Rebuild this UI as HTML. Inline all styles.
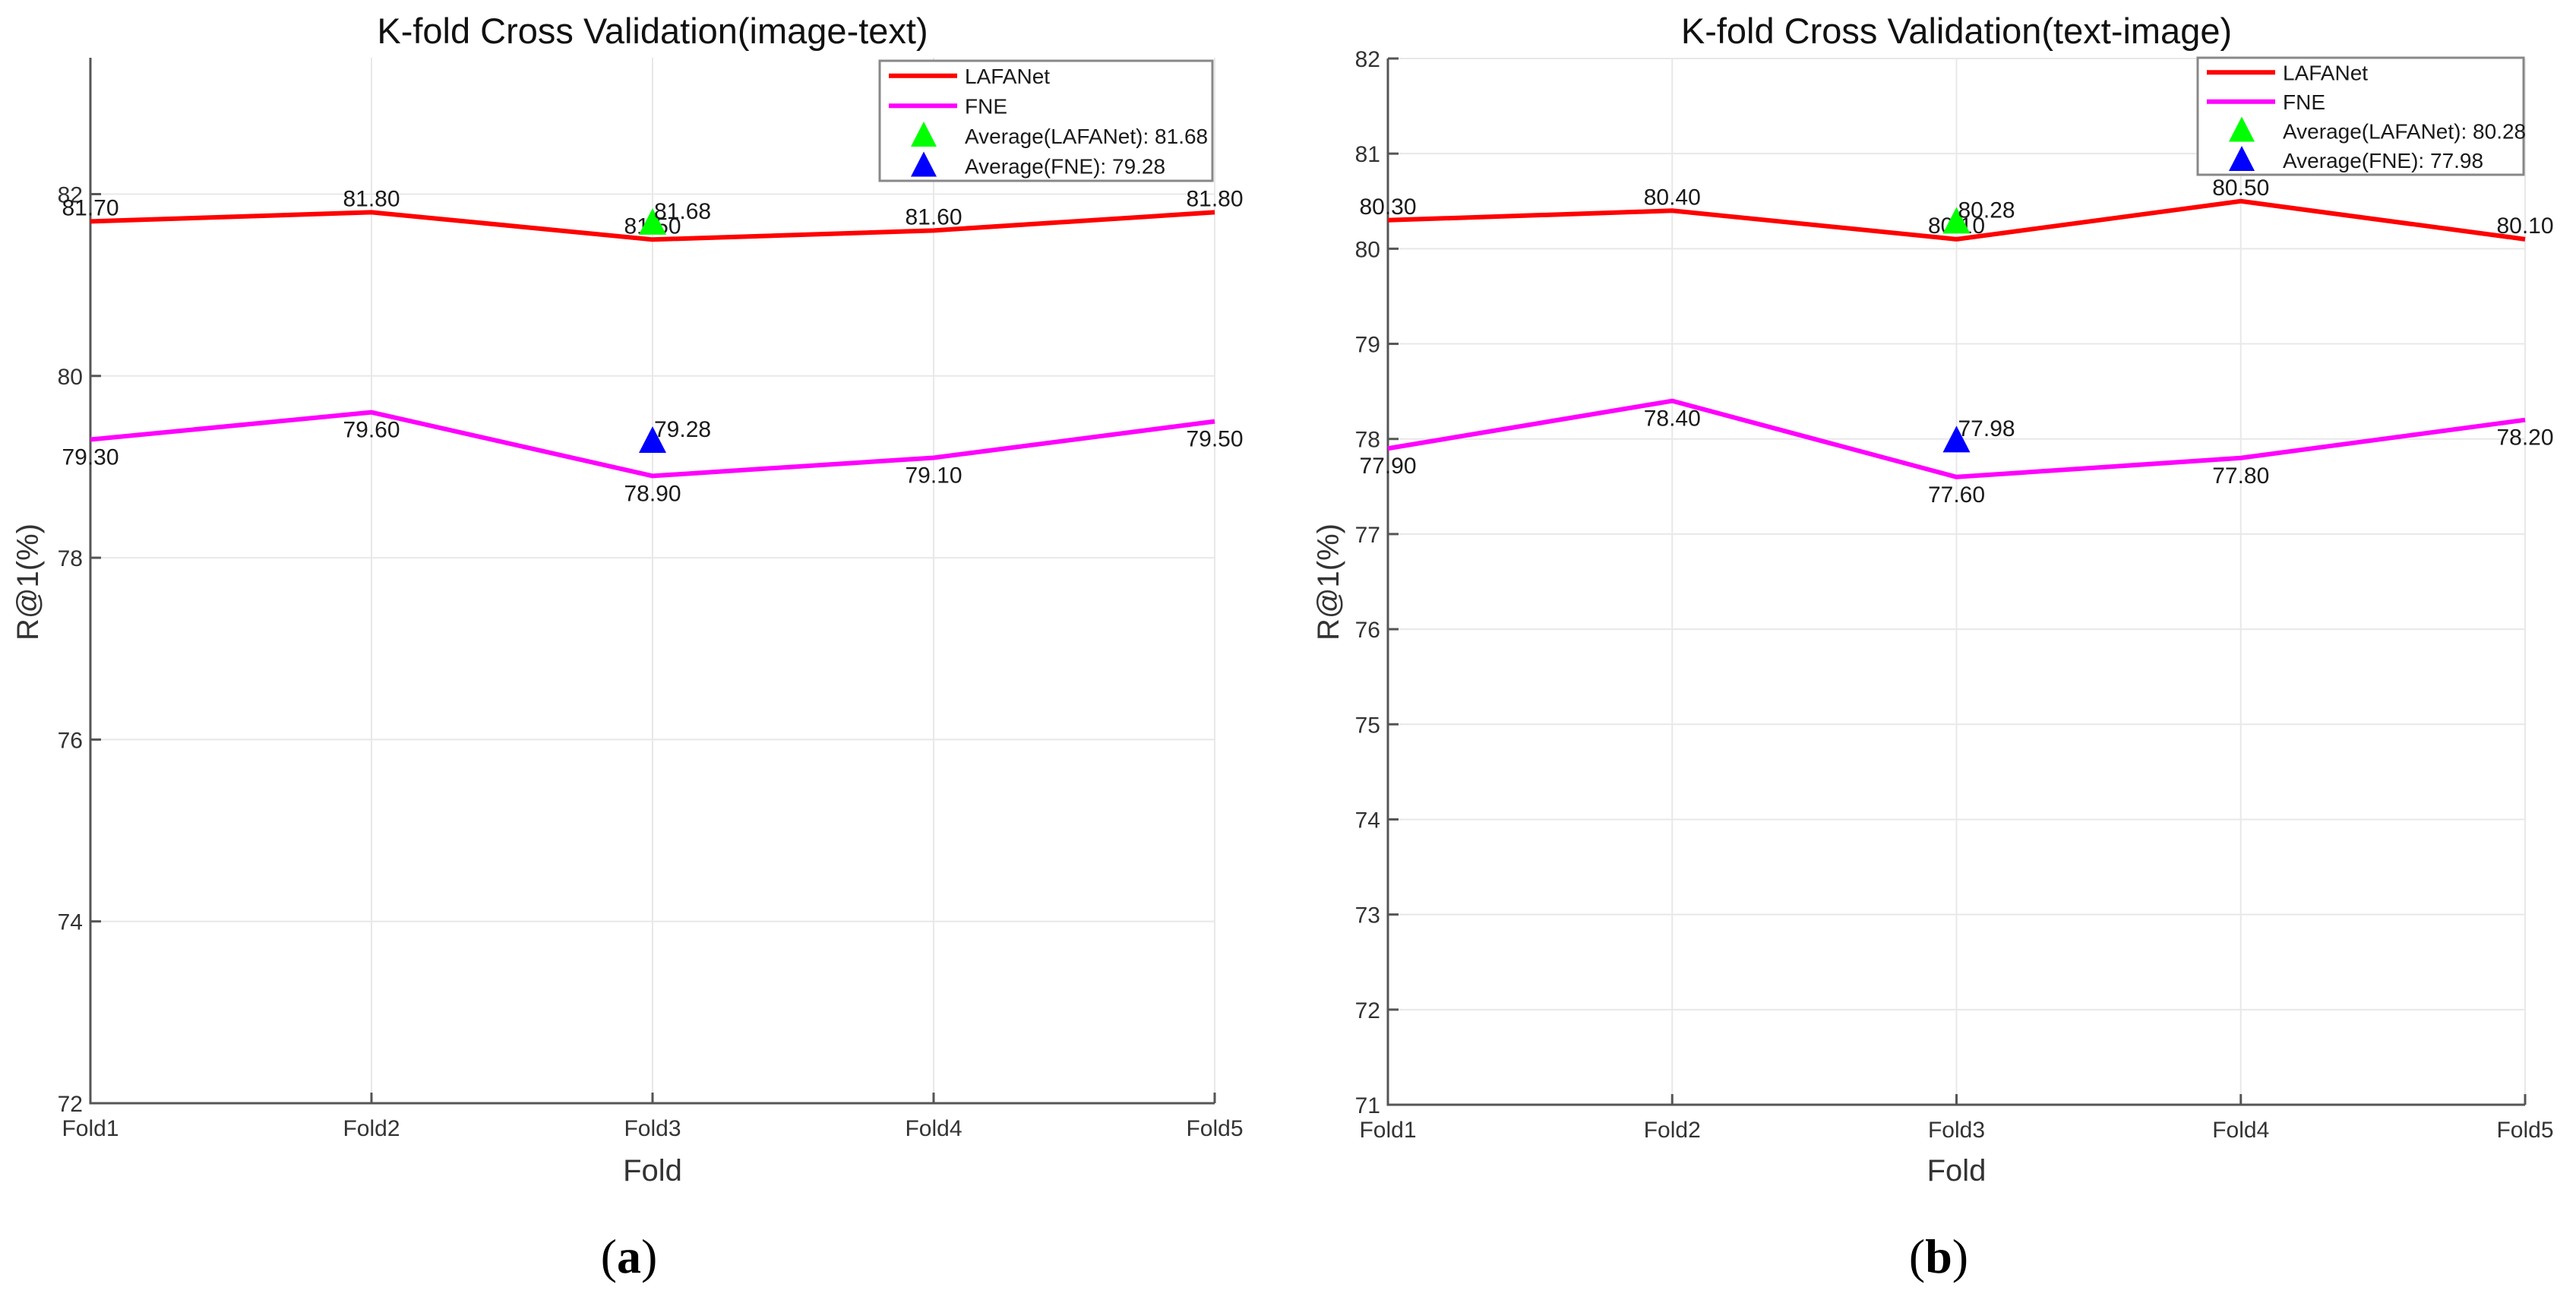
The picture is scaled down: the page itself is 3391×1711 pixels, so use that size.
<!DOCTYPE html>
<html><head><meta charset="utf-8"><style>
html,body{margin:0;padding:0;background:#fff;}
svg{display:block;font-family:"Liberation Sans",Arial,sans-serif;}
</style></head><body>
<svg id="fig" width="3391" height="1711" viewBox="0 0 3391 1711" xmlns="http://www.w3.org/2000/svg"></svg>
<script>
const folds = ["Fold1","Fold2","Fold3","Fold4","Fold5"];
const lafaA = [81.70, 81.80, 81.50, 81.60, 81.80];
const fneA = [79.30, 79.60, 78.90, 79.10, 79.50];
const avgLafaA = 81.68;
const avgFneA = 79.28;
const yTicksA = [72, 74, 76, 78, 80, 82];
const lafaB = [80.30, 80.40, 80.10, 80.50, 80.10];
const fneB = [77.90, 78.40, 77.60, 77.80, 78.20];
const avgLafaB = 80.28;
const avgFneB = 77.98;
const yTicksB = [71, 72, 73, 74, 75, 76, 77, 78, 79, 80, 81, 82];

const NS = "http://www.w3.org/2000/svg";
const svg = document.getElementById('fig');
function mk(tag, attrs, parent, text){
  const e = document.createElementNS(NS, tag);
  for (const k in attrs) e.setAttribute(k, attrs[k]);
  if (text !== undefined) e.textContent = text;
  (parent || svg).appendChild(e);
  return e;
}
function tri(cx, cy, s){ return `${cx},${cy-s*0.55} ${cx-s/2},${cy+s*0.42} ${cx+s/2},${cy+s*0.42}`; }

function panel(p){
  const g = mk('g', {});
  
  
  const xs = i => p.L + (p.R - p.L) * i / (folds.length - 1);
  const ys = v => p.B - (p.B - p.T) * (v - p.ymin) / (p.ymax - p.ymin);
  p.yt.forEach(v => {
    const l = mk('line', {x1:p.L, x2:p.R, y1:ys(v), y2:ys(v), stroke:'#e8e8e8', 'stroke-width':2}, g);
    
    
  });
  folds.forEach((f, i) => {
    const l = mk('line', {x1:xs(i), x2:xs(i), y1:p.T, y2:p.B, stroke:'#e8e8e8', 'stroke-width':2}, g);
    
    
  });
  const ax = mk('path', {d:`M${p.L},${p.T} L${p.L},${p.B} L${p.R},${p.B}`, fill:'none', stroke:'#555', 'stroke-width':3}, g);
  
  
  p.yt.forEach(v => {
    mk('line', {x1:p.L, x2:p.L+14, y1:ys(v), y2:ys(v), stroke:'#555', 'stroke-width':3}, g);
    const t = mk('text', {x:p.L-10, y:ys(v)+11, 'text-anchor':'end', 'font-size':30, fill:'#333'}, g, String(v));
    
    
  });
  folds.forEach((f, i) => {
    mk('line', {x1:xs(i), x2:xs(i), y1:p.B, y2:p.B-14, stroke:'#555', 'stroke-width':3}, g);
    const t = mk('text', {x:xs(i), y:p.B+43, 'text-anchor':'middle', 'font-size':30, fill:'#333'}, g, f);
    
    
  });
  const series = [[p.lafa, '#ff0000', 'lafanet-line', -8], [p.fne, '#ff00ff', 'fne-line', 33]];
  series.forEach(([vals, col, nm, dy]) => {
    const pl = mk('polyline', {points: vals.map((v,i)=>xs(i)+','+ys(v)).join(' '), fill:'none', stroke:col, 'stroke-width':6, 'stroke-linejoin':'round'}, g);
    
    
    vals.forEach((v, i) => {
      const t = mk('text', {x:xs(i), y:ys(v)+dy, 'text-anchor':'middle', 'font-size':30, fill:'#1a1a1a'}, g, v.toFixed(2));
      
      
    });
  });
  [[p.avgL, '#00ff00', 'avg-lafanet-marker'], [p.avgF, '#0000ff', 'avg-fne-marker']].forEach(([v, col, nm]) => {
    const m = mk('polygon', {points: tri(xs(2), ys(v), 36), fill:col}, g);
    
    
    const t = mk('text', {x:xs(2)+2, y:ys(v)-6, 'text-anchor':'start', 'font-size':30, fill:'#1a1a1a'}, g, v.toFixed(2));
    
    
  });
  const lg = mk('g', {}, g);
  
  
  mk('rect', {x:p.lgL, y:p.lgT, width:p.lgR-p.lgL, height:p.lgB-p.lgT, fill:'#fff', stroke:'#888', 'stroke-width':3}, lg);
  const rowH = (p.lgB - p.lgT) / 4;
  const labels = ['LAFANet', 'FNE', 'Average(LAFANet): ' + p.avgL.toFixed(2), 'Average(FNE): ' + p.avgF.toFixed(2)];
  labels.forEach((lab, k) => {
    const cy = p.lgT + rowH * (k + 0.5);
    if (k < 2) mk('line', {x1:p.lgL+12, x2:p.lgL+102, y1:cy, y2:cy, stroke:k===0?'#ff0000':'#ff00ff', 'stroke-width':6}, lg);
    else mk('polygon', {points: tri(p.lgL+58, cy, 34), fill:k===2?'#00ff00':'#0000ff'}, lg);
    const t = mk('text', {x:p.lgL+112, y:cy+10, 'font-size':28, fill:'#1a1a1a'}, lg, lab);
    
    
  });
  const tt = mk('text', {x:(p.L+p.R)/2, y:57, 'text-anchor':'middle', 'font-size':47, fill:'#111'}, g, p.title);
  
  
  const xt = mk('text', {x:(p.L+p.R)/2, y:1554, 'text-anchor':'middle', 'font-size':40, fill:'#333'}, g, 'Fold');
  
  
  const yt = mk('text', {x:p.ylx, y:766, 'text-anchor':'middle', 'font-size':40, fill:'#333', transform:`rotate(-90 ${p.ylx} 766)`}, g, 'R@1(%)');
  
  
  const cap = mk('text', {x:p.capX, y:1675, 'text-anchor':'middle', 'font-size':64, fill:'#000', 'font-family':'"Liberation Serif",serif'}, g);
  
  
  mk('tspan', {}, cap, '(');
  mk('tspan', {'font-weight':'bold'}, cap, p.cap);
  mk('tspan', {}, cap, ')');
}

panel({id:'image-text', L:119, R:1599, T:76, B:1452, ymin:72, ymax:83.5, yt:yTicksA,
  lafa:lafaA, fne:fneA, avgL:avgLafaA, avgF:avgFneA,
  lgL:1158, lgR:1596, lgT:80, lgB:238, title:'K-fold Cross Validation(image-text)',
  ylx:50, capX:828, cap:'a'});
panel({id:'text-image', L:1827, R:3324, T:77, B:1454, ymin:71, ymax:82, yt:yTicksB,
  lafa:lafaB, fne:fneB, avgL:avgLafaB, avgF:avgFneB,
  lgL:2893, lgR:3322, lgT:76, lgB:230, title:'K-fold Cross Validation(text-image)',
  ylx:1762, capX:2552, cap:'b'});
</script>
</body></html>
